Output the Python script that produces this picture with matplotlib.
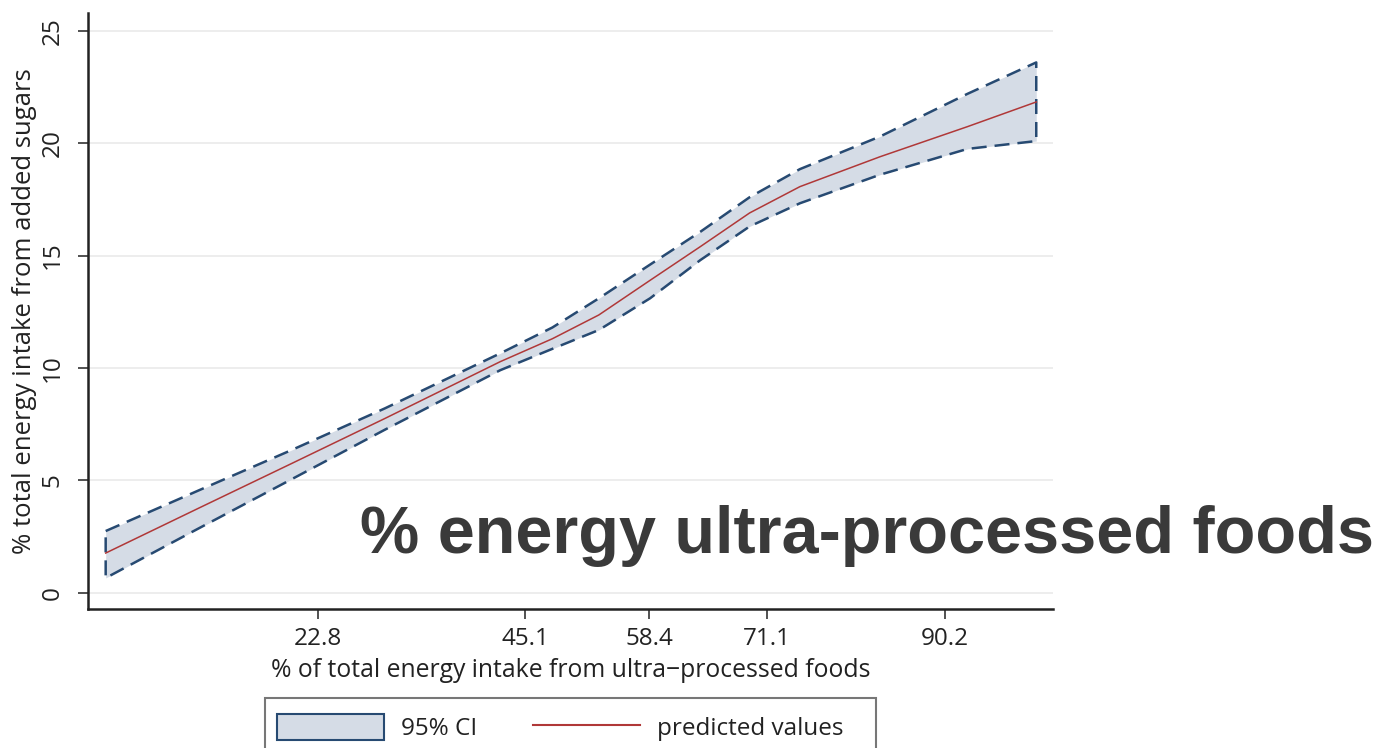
import numpy as np
import matplotlib.pyplot as plt
from matplotlib.patches import Patch, Rectangle
from matplotlib.lines import Line2D

# predicted % energy from added sugars vs % energy from ultra-processed foods
upf = [0, 10, 20, 30, 42.4, 48, 53, 58.5, 63.9, 69.2, 74.6, 83.2, 92.6, 100]
pred = [1.76, 3.76, 5.75, 7.75, 10.28, 11.3, 12.36, 13.9, 15.4, 16.9, 18.07, 19.4, 20.74, 21.84]
ci_hi = [2.74, 4.55, 6.35, 8.2, 10.65, 11.8, 13.1, 14.6, 16.06, 17.6, 18.85, 20.3, 22.2, 23.6]
ci_lo = [0.65, 2.86, 5.05, 7.25, 9.9, 10.85, 11.69, 13.1, 14.8, 16.3, 17.33, 18.6, 19.75, 20.1]

xticks = [22.8, 45.1, 58.4, 71.1, 90.2]
yticks = [0, 5, 10, 15, 20, 25]

band_col = '#d5dce6'
edge_col = '#274a72'
line_col = '#b03838'
text_col = '#222222'

plt.rcParams['font.family'] = ['Open Sans', 'DejaVu Sans']

W, H = 1383, 748
fig = plt.figure(figsize=(W/100, H/100), dpi=100)
ax = fig.add_axes([88/W, 1-609/H, (1053-88)/W, (609-13)/H])

ax.fill_between(upf, ci_lo, ci_hi, color=band_col, lw=0, zorder=2)
# dashed outline of the confidence band, closed at both ends
ox = upf + upf[::-1] + [upf[0]]
oy = ci_hi + ci_lo[::-1] + [ci_hi[0]]
ax.plot(ox, oy, color=edge_col, lw=1.8, dashes=(6, 3.2), zorder=3)
ax.plot(upf, pred, color=line_col, lw=1.1, zorder=4)

ax.set_xlim(-1.9, 101.8)
ax.set_ylim(-0.73, 25.8)
ax.set_xticks(xticks)
ax.set_xticklabels([f'{t:.1f}' for t in xticks])
ax.set_yticks(yticks)
ax.set_yticklabels([str(t) for t in yticks], rotation=90, va='center')

ax.grid(axis='y', color='#ececec', lw=1.3)
ax.set_axisbelow(True)
for s in ['top', 'right']:
    ax.spines[s].set_visible(False)
for s in ['left', 'bottom']:
    ax.spines[s].set_linewidth(1.8)
    ax.spines[s].set_color(text_col)
ax.tick_params(axis='both', length=7, width=1.1, color=text_col, labelsize=17.5, labelcolor=text_col)
ax.tick_params(axis='x', pad=6)
ax.tick_params(axis='y', pad=10)

ax.set_xlabel('% of total energy intake from ultra\u2212processed foods', fontsize=17.8,
              color=text_col, labelpad=5)
ax.set_ylabel('% total energy intake from added sugars', fontsize=18.5, color=text_col)
ax.yaxis.set_label_coords(-0.053, 0.5)

# legend box runs off the bottom edge
fig.patches.append(Rectangle((265/W, -0.05), (876-265)/W, (1-698/H)+0.05,
                             transform=fig.transFigure, fill=False,
                             edgecolor='#777777', lw=1.5))
handles = [Patch(facecolor=band_col, edgecolor=edge_col, lw=1.5),
           Line2D([0], [0], color=line_col, lw=1.5)]
fig.legend(handles, ['95% CI', 'predicted values'], ncol=2, loc='upper left',
           bbox_to_anchor=(277/W, 1-714/H), borderaxespad=0, borderpad=0,
           frameon=False, fontsize=17.5,
           handlelength=4.4, handleheight=1.25, columnspacing=2.3,
           handletextpad=0.7, labelcolor=text_col)

fig.text(360/W, 1-553/H, '% energy ultra-processed foods', fontsize=48,
         fontweight='bold', family=['Liberation Sans', 'DejaVu Sans'],
         color='#3a3a3a', va='baseline', ha='left')

fig.savefig('out.png', dpi=100)
